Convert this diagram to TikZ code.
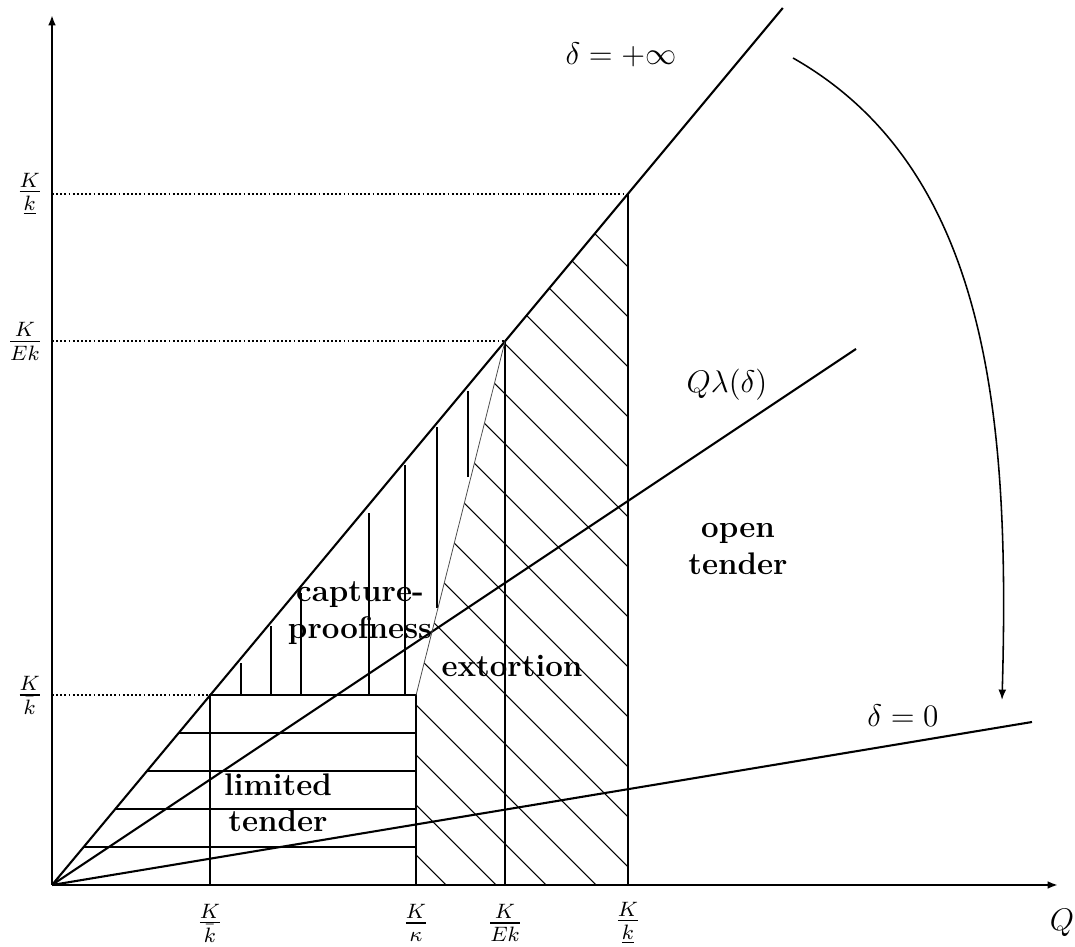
\documentclass[tikz,border=0pt]{standalone}
\usepackage{amsmath,amssymb}
\usepackage{tikz}
\usetikzlibrary{arrows.meta}

\begin{document}
\begin{tikzpicture}[x=0.0135cm, y=0.0135cm,
    every node/.style={font=\large},
    mainline/.style={line width=0.8pt},
    hatchline/.style={line width=0.4pt},
    guide/.style={line width=0.7pt, dash pattern=on 0.7pt off 0.9pt},
    region/.style={font=\large\bfseries, align=center},
    axis/.style={mainline, -{Latex[length=4pt,width=3pt]}}]
    \useasboundingbox (-52,-62) rectangle (1023,885);
    % Points on the delta = +infinity ray
    \coordinate (O) at (0,0);
    \coordinate (A) at (158,189.6);
    \coordinate (B) at (453,543.6);
    \coordinate (C) at (576,691.2);
    \coordinate (R) at (364,189.6);
    \coordinate (Abase) at (158,0);
    \coordinate (Rbase) at (364,0);
    \coordinate (Bbase) at (453,0);
    \coordinate (Cbase) at (576,0);
    \coordinate (Tinf) at (730.8,877);
    \coordinate (Tlam) at (804,536);
    \coordinate (Tzero) at (980,163);
    % Extortion hatching
    \begin{scope}
        \clip (Rbase) -- (R) -- (B) -- (C) -- (Cbase) -- cycle;
        \foreach \c in {394,444,...,1194}
            \draw[hatchline] (\c,0) -- ++(-800,800);
    \end{scope}
    % Limited tender hatching
    \foreach \k in {1,...,4}
        \draw[mainline] ({0.2*\k*158},{0.2*\k*189.6}) -- (364,{0.2*\k*189.6});
    % Capture-proofness hatching
    \foreach \x/\t/\b in {189/222/189.6, 219/259/189.6, 249/292/189.6,
                          317/372/189.6, 353/420/189.6, 385/458/277, 416/494/408}
        \draw[mainline] (\x,\b) -- (\x,\t);
    % Rays
    \draw[mainline] (O) -- (Tinf);
    \draw[mainline] (O) -- (Tlam);
    \draw[mainline] (O) -- (Tzero);
    % Region borders
    \draw[mainline] (Abase) -- (A) -- (R) -- (Rbase);
    \draw[mainline] (Bbase) -- (B);
    \draw[mainline] (Cbase) -- (C);
    \draw[line width=0.3pt, black!70] (R) -- (B);
    % Guides to the vertical axis
    \draw[guide] (0,691.2) -- (C);
    \draw[guide] (0,543.6) -- (B);
    \draw[guide] (0,189.6) -- (A);
    % Axes
    \draw[axis] (O) -- (1006,0);
    \draw[axis] (O) -- (0,870);
    \node (q) at (1010,-38) {$Q$};
    % Axis labels
    \node[left] (yc) at (0,691.2) {$\frac{K}{\underline{k}}$};
    \node[left] (yb) at (0,543.6) {$\frac{K}{Ek}$};
    \node[left] (ya) at (0,189.6) {$\frac{K}{\bar{k}}$};
    \node (xa) at (158,-38) {$\frac{K}{\bar{k}}$};
    \node (xr) at (364,-38) {$\frac{K}{\kappa}$};
    \node (xb) at (453,-38) {$\frac{K}{Ek}$};
    \node (xc) at (576,-38) {$\frac{K}{\underline{k}}$};
    % Ray labels
    \node (linf) at (569,830) {$\delta=+\infty$};
    \node (llam) at (675,500) {$Q\lambda(\delta)$};
    \node (lzero) at (851,169) {$\delta=0$};
    % Regions
    \node[region] (limited) at (226,82) {limited\\tender};
    \node[region] (capture) at (308,272) {capture-\\proofness};
    \node[region] (extort) at (460,219) {extortion};
    \node[region] (open) at (686,336) {open\\tender};
    % Sweep from delta = +infinity to delta = 0
    \draw[line width=0.6pt, -{Latex[length=4pt,width=3pt]}]
        (741,827) .. controls (938,715) and (958,465) .. (950,185);
\end{tikzpicture}
\end{document}
